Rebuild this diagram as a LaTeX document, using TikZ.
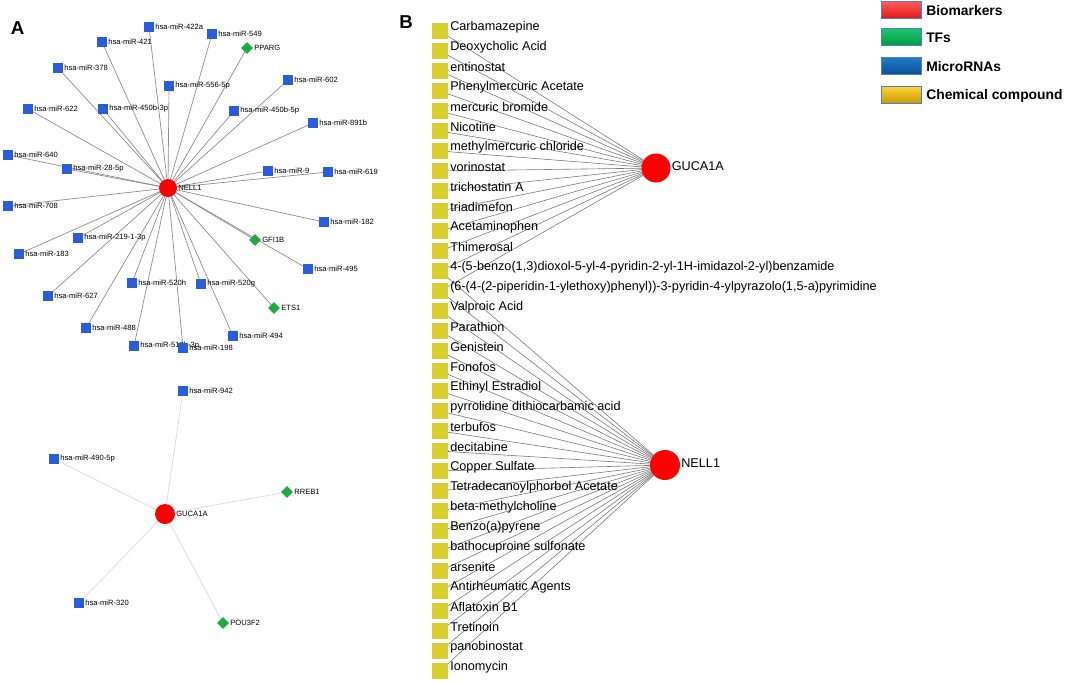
\documentclass[tikz,border=0pt]{standalone}
\usepackage{fontspec}
\setmainfont{Liberation Sans}
\usetikzlibrary{shapes.geometric,backgrounds}
\definecolor{mirblue}{HTML}{2B5CDB}
\definecolor{tfgreen}{HTML}{1DAB43}
\definecolor{bmred}{HTML}{FF0000}
\definecolor{cmpyel}{HTML}{D9CF2C}
\definecolor{edgeA}{HTML}{8A8A8A}
\definecolor{edgeG}{HTML}{DCDCDC}
\definecolor{edgeB}{HTML}{7A7A7A}
\definecolor{legborder}{HTML}{4F81BD}
\definecolor{lgRa}{HTML}{FF5A5A}\definecolor{lgRb}{HTML}{E01818}
\definecolor{lgGa}{HTML}{1CC66C}\definecolor{lgGb}{HTML}{009A45}
\definecolor{lgBa}{HTML}{1E7BC8}\definecolor{lgBb}{HTML}{0A4F95}
\definecolor{lgYa}{HTML}{FFD23A}\definecolor{lgYb}{HTML}{C99A00}
\tikzset{
  mir/.style={rectangle, fill=mirblue, minimum size=7.5pt, inner sep=0pt},
  tf/.style={diamond, fill=tfgreen, minimum size=9pt, inner sep=0pt},
  bm/.style={circle, fill=bmred, inner sep=0pt},
  alab/.style={font=\fontsize{5.7}{6.5}\selectfont, inner sep=0.6pt, text=black},
  aedge/.style={draw=edgeA, line width=0.5pt},
  gedge/.style={draw=edgeG, line width=0.6pt},
  bedge/.style={draw=edgeB, line width=0.45pt},
  cmp/.style={rectangle, fill=cmpyel, minimum size=12pt, inner sep=0pt},
  ctext/.style={anchor=west, inner sep=0pt, font=\fontsize{9.5}{11}\selectfont},
  blab/.style={font=\fontsize{9.5}{11}\selectfont, inner sep=0.6pt},
  legbox/.style={rectangle, draw=legborder, line width=0.75pt, minimum width=30pt, minimum height=12.5pt, inner sep=0pt},
  legtext/.style={anchor=west, inner sep=0pt, font=\fontsize{10.4}{12}\selectfont\bfseries},
  panel/.style={font=\fontsize{14}{16}\selectfont\bfseries, inner sep=0pt}
}
\begin{document}
\begin{tikzpicture}[x=0.75pt,y=-0.75pt]
\useasboundingbox (0,0) rectangle (1065,682);

% panel letters
\node[panel] (pA) at (17.5,28.5) {A};
\node[panel] (pB) at (406,22) {B};

% ---------- Panel A : NELL1 network ----------
\node[bm, minimum size=13.5pt, label={[alab]right:NELL1}] (nellA) at (168,188) {};
\node[mir, label={[alab]right:hsa-miR-422a}] (m422a) at (149,27) {};
\node[mir, label={[alab]right:hsa-miR-421}] (m421) at (102,42) {};
\node[mir, label={[alab]right:hsa-miR-378}] (m378) at (58,68) {};
\node[mir, label={[alab]right:hsa-miR-622}] (m622) at (28,109) {};
\node[mir, label={[alab]right:hsa-miR-450b-3p}] (m450bthree) at (103,109) {};
\node[mir, label={[alab]right:hsa-miR-640}] (m640) at (8,155) {};
\node[mir, label={[alab]right:hsa-miR-28-5p}] (m28) at (67,169) {};
\node[mir, label={[alab]right:hsa-miR-556-5p}] (m556) at (169,86) {};
\node[mir, label={[alab]right:hsa-miR-549}] (m549) at (212,34) {};
\node[tf, label={[alab]right:PPARG}] (pparg) at (247,48) {};
\node[mir, label={[alab]right:hsa-miR-602}] (m602) at (288,80) {};
\node[mir, label={[alab]right:hsa-miR-450b-5p}] (m450bfive) at (234,111) {};
\node[mir, label={[alab]right:hsa-miR-891b}] (m891b) at (313,123) {};
\node[mir, label={[alab]right:hsa-miR-9}] (m9) at (268,171) {};
\node[mir, label={[alab]right:hsa-miR-619}] (m619) at (328,172) {};
\node[mir, label={[alab]right:hsa-miR-708}] (m708) at (8,206) {};
\node[mir, label={[alab]right:hsa-miR-219-1-3p}] (m219) at (78,238) {};
\node[mir, label={[alab]right:hsa-miR-183}] (m183) at (19,254) {};
\node[mir, label={[alab]right:hsa-miR-520h}] (m520h) at (132,283) {};
\node[mir, label={[alab]right:hsa-miR-627}] (m627) at (48,296) {};
\node[mir, label={[alab]right:hsa-miR-488}] (m488) at (86,328) {};
\node[mir, label={[alab]right:hsa-miR-519b-3p}] (m519b) at (134,346) {};
\node[mir, label={[alab]right:hsa-miR-198}] (m198) at (183,348) {};
\node[mir, label={[alab]right:hsa-miR-182}] (m182) at (324,222) {};
\node[tf, label={[alab]right:GFI1B}] (gfi1b) at (255,240) {};
\node[mir, label={[alab]right:hsa-miR-495}] (m495) at (308,269) {};
\node[mir, label={[alab]right:hsa-miR-520g}] (m520g) at (201,284) {};
\node[tf, label={[alab]right:ETS1}] (ets1) at (274,308) {};
\node[mir, label={[alab]right:hsa-miR-494}] (m494) at (233,336) {};

% ---------- Panel A : GUCA1A network ----------
\node[bm, minimum size=15pt, label={[alab]right:GUCA1A}] (gucaA) at (165,514) {};
\node[mir, label={[alab]right:hsa-miR-942}] (m942) at (183,391) {};
\node[mir, label={[alab]right:hsa-miR-490-5p}] (m490) at (54,459) {};
\node[tf, label={[alab]right:RREB1}] (rreb1) at (287,492) {};
\node[mir, label={[alab]right:hsa-miR-320}] (m320) at (79,603) {};
\node[tf, label={[alab]right:POU3F2}] (pou3f2) at (223,623) {};

% ---------- Panel B ----------
\node[bm, minimum size=21.75pt, label={[blab, yshift=1.5pt]right:GUCA1A}] (gucaB) at (656,168) {};
\node[bm, minimum size=22.5pt, label={[blab, yshift=1.5pt]right:NELL1}] (nellB) at (665,465) {};
\foreach \t [count=\i] in {Carbamazepine, Deoxycholic Acid, entinostat, Phenylmercuric Acetate, mercuric bromide, Nicotine, methylmercuric chloride, vorinostat, trichostatin A, triadimefon, Acetaminophen, Thimerosal, {4-(5-benzo(1,3)dioxol-5-yl-4-pyridin-2-yl-1H-imidazol-2-yl)benzamide}, {(6-(4-(2-piperidin-1-ylethoxy)phenyl))-3-pyridin-4-ylpyrazolo(1,5-a)pyrimidine}, Valproic Acid, Parathion, Genistein, Fonofos, Ethinyl Estradiol, pyrrolidine dithiocarbamic acid, terbufos, decitabine, Copper Sulfate, Tetradecanoylphorbol Acetate, beta-methylcholine, Benzo(a)pyrene, bathocuproine sulfonate, arsenite, Antirheumatic Agents, Aflatoxin B1, Tretinoin, panobinostat, Ionomycin}
{
  \node[cmp] (c\i) at (440,{31+20*(\i-1)}) {};
  \node[ctext] (ct\i) at (450,{27+20*(\i-1)}) {\t};
}

% ---------- Legend ----------
\node[legbox, top color=lgRa, bottom color=lgRb] (lb1) at (901,10) {};
\node[legbox, top color=lgGa, bottom color=lgGb] (lb2) at (901,37) {};
\node[legbox, top color=lgBa, bottom color=lgBb] (lb3) at (901,66) {};
\node[legbox, top color=lgYa, bottom color=lgYb] (lb4) at (901,95) {};
\node[legtext] (lt1) at (926,11) {Biomarkers};
\node[legtext] (lt2) at (926,38) {TFs};
\node[legtext] (lt3) at (926,67) {MicroRNAs};
\node[legtext] (lt4) at (926,96) {Chemical compound};

% ---------- Edges (behind nodes) ----------
\begin{scope}[on background layer]
  \fill[white] (0,0) rectangle (1065,682);
  \foreach \n in {m422a,m421,m378,m622,m450bthree,m640,m28,m556,m549,pparg,m602,m450bfive,m891b,m9,m619,m708,m219,m183,m520h,m627,m488,m519b,m198,m182,gfi1b,m495,m520g,ets1,m494}
    \draw[aedge] (nellA.center) -- (\n.center);
  \foreach \n in {m942,m490,rreb1,m320,pou3f2}
    \draw[gedge] (gucaA.center) -- (\n.center);
  \foreach \i in {1,...,14}
    \draw[bedge] (c\i.center) -- (gucaB.center);
  \foreach \i in {13,...,33}
    \draw[bedge] (c\i.center) -- (nellB.center);
\end{scope}
\end{tikzpicture}
\end{document}
